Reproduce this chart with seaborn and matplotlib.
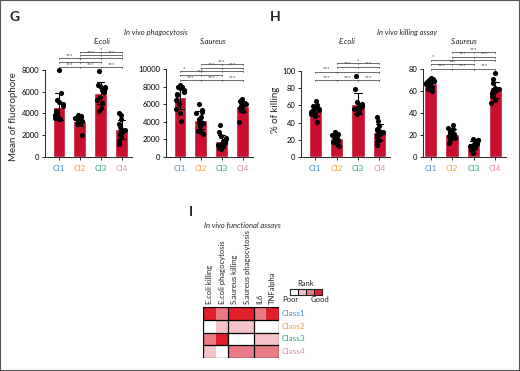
import numpy as np
import pandas as pd
import matplotlib
matplotlib.use("Agg")
import matplotlib.pyplot as plt
import matplotlib.transforms as mtransforms
from matplotlib.colors import ListedColormap
from matplotlib.patches import Rectangle
import seaborn as sns

sns.set_style("ticks")
plt.rcParams['font.family'] = ['Lato', 'DejaVu Sans']

# ---------------- data ----------------
groups = ["Cl1", "Cl2", "Cl3", "Cl4"]
group_colors = ["#4a8fc8", "#eea33a", "#22a58c", "#e486b6"]
bar_color = "#c8102e"

g_ecoli = {
    "Cl1": [8000, 5900, 5200, 5100, 4900, 4700, 4200, 4000, 3900, 3700, 3600, 3500, 3500],
    "Cl2": [3900, 3800, 3700, 3600, 3500, 3500, 3400, 3300, 3300, 3200, 3100, 3000, 2000],
    "Cl3": [7900, 6600, 6500, 6400, 6300, 6200, 6100, 6000, 5500, 5200, 5000, 4500, 4200],
    "Cl4": [4000, 3900, 3500, 3000, 2800, 2600, 2500, 2300, 2200, 2000, 1800, 1500, 1200],
}
g_saureus = {
    "Cl1": [8200, 8000, 7900, 7800, 7600, 7400, 7200, 7000, 6500, 6000, 5500, 5000, 4100],
    "Cl2": [6000, 5300, 5100, 5000, 4500, 4300, 4100, 4000, 3900, 3500, 3000, 2800, 2600],
    "Cl3": [3600, 2800, 2400, 2200, 2000, 1800, 1700, 1600, 1500, 1400, 1300, 1200, 1100, 1000, 900],
    "Cl4": [6600, 6400, 6200, 6100, 6000, 5900, 5800, 5800, 5700, 5600, 5500, 5200, 4000],
}
h_ecoli = {
    "Cl1": [65, 61, 59, 57, 56, 55, 54, 53, 52, 51, 50, 48, 41],
    "Cl2": [29, 27, 26, 25, 24, 23, 22, 21, 20, 19, 17, 15, 13],
    "Cl3": [94, 79, 64, 62, 61, 60, 59, 58, 57, 56, 54, 52, 50],
    "Cl4": [46, 42, 36, 33, 31, 30, 29, 27, 25, 23, 20, 18, 14],
}
h_saureus = {
    "Cl1": [72, 71, 70, 70, 69, 69, 68, 68, 67, 67, 66, 65, 64, 62, 60],
    "Cl2": [29, 26, 25, 24, 23, 22, 21, 20, 19, 18, 17, 15, 13],
    "Cl3": [16, 15, 15, 14, 13, 12, 11, 10, 9, 8, 7, 6, 4],
    "Cl4": [76, 71, 67, 63, 62, 62, 61, 61, 60, 58, 55, 52, 49],
}

# significance brackets: (from group, to group, height in axes fraction, [(x, label)])
g_ecoli_sig = [
    (1, 3, 1.207, [(2, "*")]),
    (1, 3, 1.172, [(1.5, "***"), (2.5, "***")]),
    (0, 3, 1.138, [(0.5, "***")]),
    (0, 2, 1.092, [(1, "*")]),
    (0, 3, 1.034, [(0.5, "***"), (1.5, "***"), (2.5, "***")]),
]
g_saureus_sig = [
    (1, 3, 1.053, [(2, "***")]),
    (1, 3, 1.015, [(1.5, "***"), (2.5, "***")]),
    (0, 3, 0.977, [(0.2, "*")]),
    (0, 2, 0.932, [(1, "***")]),
    (0, 3, 0.875, [(0.5, "***"), (1.5, "***"), (2.5, "***")]),
]
h_ecoli_sig = [
    (1, 3, 1.089, [(2, "*")]),
    (1, 3, 1.050, [(1.5, "***"), (2.5, "***")]),
    (0, 3, 0.992, [(0.5, "***")]),
    (0, 3, 0.895, [(0.5, "***"), (1.5, "***"), (2.5, "***")]),
]
h_saureus_sig = [
    (1, 3, 1.193, [(2, "***")]),
    (1, 3, 1.137, [(1.5, "***"), (2.5, "***")]),
    (0, 3, 1.106, [(0.1, "*")]),
    (0, 2, 1.055, [(1.0, "***")]),
    (0, 3, 1.005, [(0.5, "***"), (1.5, "***"), (2.5, "***")]),
]

assays = ["E.coli killing", "E.coli phagocytosis", "S.aureus killing",
          "S.aureus phagocytosis", "IL6", "TNFalpha"]
classes = ["Class1", "Class2", "Class3", "Class4"]
rank_class1 = [4, 3, 4, 4, 3, 4]
rank_class2 = [1, 2, 2, 2, 1, 1]
rank_class3 = [3, 4, 1, 1, 2, 2]
rank_class4 = [2, 1, 3, 3, 3, 3]
rank_levels = [1, 2, 3, 4]
rank_colors = ["#ffffff", "#f6c3c9", "#ea7b84", "#e1202a"]

# ---------------- figure ----------------
W, H = 520, 371
fig = plt.figure(figsize=(W / 100, H / 100), dpi=100)
fig.patch.set_facecolor("white")


def fx(px):
    return px / W


def fy(py):
    return 1 - py / H


def bar_panel(rect, data, yticks, xlim, sig):
    ax = fig.add_axes(rect)
    df = pd.DataFrame([(g, v) for g in groups for v in data[g]], columns=["group", "value"])
    sns.barplot(data=df, x="group", y="value", order=groups, color=bar_color,
                errorbar="sd", capsize=0.35, err_kws={"color": "black", "linewidth": 0.8},
                width=0.62, saturation=1, ax=ax)
    np.random.seed(3)
    sns.stripplot(data=df, x="group", y="value", order=groups, color="black",
                  size=3.7, jitter=0.22, ax=ax, clip_on=False, zorder=5)
    ax.set_xlim(*xlim)
    ax.set_ylim(yticks[0], yticks[-1])
    ax.set_yticks(yticks)
    ax.set_yticklabels([str(t) for t in yticks], fontsize=5.5)
    ax.set_xlabel("")
    ax.set_ylabel("")
    ax.tick_params(axis="both", length=2.5, width=0.6, pad=1.5, colors="black")
    ax.tick_params(axis="x", labelsize=6, pad=3)
    for lab, c in zip(ax.get_xticklabels(), group_colors):
        lab.set_color(c)
    for s in ["top", "right"]:
        ax.spines[s].set_visible(False)
    for s in ["left", "bottom"]:
        ax.spines[s].set_linewidth(0.7)
    tr = mtransforms.blended_transform_factory(ax.transData, ax.transAxes)
    for x1, x2, yy, labs in sig:
        ax.plot([x1, x2], [yy, yy], color="#333333", lw=0.5, transform=tr, clip_on=False)
        for xe in range(x1, x2 + 1):
            ax.plot([xe, xe], [yy, yy - 0.012], color="#333333", lw=0.5, transform=tr, clip_on=False)
        for xl, t in labs:
            ax.text(xl, yy + 0.004, t, fontsize=4.2, ha="center", va="bottom",
                    transform=tr, color="#333333")
    return ax


axh = 87 / H
bar_panel([fx(45), fy(157), fx(87), axh], g_ecoli, [0, 2000, 4000, 6000, 8000], (-0.67, 3.5), g_ecoli_sig)
bar_panel([fx(166), fy(157), fx(87), 88 / H], g_saureus, [0, 2000, 4000, 6000, 8000, 10000], (-0.67, 3.5), g_saureus_sig)
bar_panel([fx(301), fy(157), fx(89), 86 / H], h_ecoli, [0, 20, 40, 60, 80, 100], (-0.67, 3.5), h_ecoli_sig)
bar_panel([fx(423), fy(157), fx(83), 88 / H], h_saureus, [0, 20, 40, 60, 80], (-0.35, 3.5), h_saureus_sig)

# panel letters and titles
fig.text(fx(10), fy(17), "G", fontsize=10, fontweight="bold", va="center", ha="left")
fig.text(fx(270), fy(17), "H", fontsize=10, fontweight="bold", va="center", ha="left")
fig.text(fx(189), fy(212), "I", fontsize=10, fontweight="bold", va="center", ha="left")

fig.text(fx(156), fy(32), "In vivo phagocytosis", fontsize=5.5, style="italic", ha="center", va="center")
fig.text(fx(102), fy(42), "E.coli", fontsize=5.5, style="italic", ha="center", va="center")
fig.text(fx(213), fy(42), "S.aureus", fontsize=5.5, style="italic", ha="center", va="center")
fig.text(fx(407), fy(32), "In vivo killing assay", fontsize=5.5, style="italic", ha="center", va="center")
fig.text(fx(347), fy(42), "E.coli", fontsize=5.5, style="italic", ha="center", va="center")
fig.text(fx(464), fy(42), "S.aureus", fontsize=5.5, style="italic", ha="center", va="center")

fig.text(fx(14), fy(117), "Mean of fluorophore", fontsize=7, rotation=90, ha="center", va="center")
fig.text(fx(276), fy(110), "% of killing", fontsize=7, rotation=90, ha="center", va="center")

# ---------------- heatmap ----------------
ax_hm = fig.add_axes([fx(203), fy(358), fx(76), 51 / H])
mat = pd.DataFrame([rank_class1, rank_class2, rank_class3, rank_class4], index=classes, columns=assays)
cmap = ListedColormap(rank_colors)
sns.heatmap(mat, cmap=cmap, vmin=0.5, vmax=4.5, cbar=False, ax=ax_hm,
            xticklabels=True, yticklabels=True)
ax_hm.xaxis.tick_top()
ax_hm.set_xticklabels(assays, rotation=90, fontsize=5.5, va="bottom", ha="center")
ax_hm.yaxis.tick_right()
ax_hm.set_yticklabels(classes, rotation=0, fontsize=6, va="center", ha="left")
for lab, c in zip(ax_hm.get_yticklabels(), group_colors):
    lab.set_color(c)
ax_hm.tick_params(length=0, pad=2)
ax_hm.set_xlabel("")
ax_hm.set_ylabel("")
for yv in range(0, 5):
    ax_hm.axhline(yv, color="black", lw=0.9)
for xv in [0, 2, 4, 6]:
    ax_hm.axvline(xv, color="black", lw=0.9)

fig.text(fx(204), fy(226), "In vivo functional assays", fontsize=5.5, style="italic", ha="left", va="center")

# rank legend
ax_lg = fig.add_axes([fx(290), fy(295), fx(32), 6 / H])
sns.heatmap(pd.DataFrame([rank_levels]), cmap=cmap, vmin=0.5, vmax=4.5, cbar=False,
            linewidths=0.6, linecolor="black", xticklabels=False, yticklabels=False, ax=ax_lg)
for s in ax_lg.spines.values():
    s.set_visible(True)
    s.set_linewidth(0.8)
fig.text(fx(306), fy(284), "Rank", fontsize=5.5, ha="center", va="center")
fig.text(fx(282), fy(300), "Poor", fontsize=5.5, ha="left", va="center")
fig.text(fx(329), fy(300), "Good", fontsize=5.5, ha="right", va="center")

# figure frame
fig.add_artist(Rectangle((0, 0), 1, 1, transform=fig.transFigure, fill=False,
                         edgecolor="#555555", lw=1.5))

fig.savefig("out.png", dpi=100)
